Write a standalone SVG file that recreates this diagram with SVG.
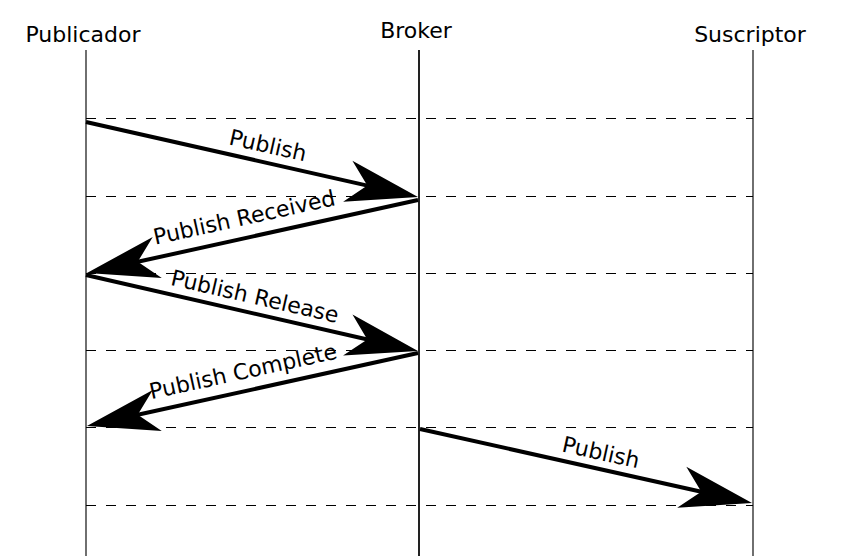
<svg xmlns="http://www.w3.org/2000/svg" width="842" height="556" viewBox="0 0 842 556">
<style>
.hdr{font-family:"DejaVu Sans",sans-serif;font-size:22px;fill:#000;text-anchor:middle}
.lbl{font-family:"DejaVu Sans",sans-serif;font-size:22px;fill:#000;text-anchor:middle}
.life{stroke:#222;stroke-width:1.3;fill:none}
.dash{stroke:#000;stroke-width:1;stroke-dasharray:10,10;fill:none}
.msg{stroke:#000;stroke-width:4;fill:none;marker-end:url(#head)}
</style>
<defs>
<marker id="head" markerUnits="userSpaceOnUse" viewBox="-74 -24 76 48" refX="-45" refY="0" markerWidth="76" markerHeight="48" orient="auto" overflow="visible">
<path d="M0,0 L-72,-21 L-52,0 L-72,21 Z" fill="#000"/>
</marker>
</defs>
<g id="publicador">
<text class="hdr" x="83" y="42">Publicador</text>
<line class="life" x1="86" y1="50" x2="86" y2="556"/>
</g>
<g id="broker">
<text class="hdr" x="416" y="38">Broker</text>
<line class="life" x1="419" y1="50" x2="419" y2="556" style="stroke-width:2"/>
</g>
<g id="suscriptor">
<text class="hdr" x="750" y="42">Suscriptor</text>
<line class="life" x1="753" y1="50" x2="753" y2="556"/>
</g>
<g id="grid">
<line class="dash" x1="86" y1="118.5" x2="753" y2="118.5"/>
<line class="dash" x1="86" y1="196.5" x2="753" y2="196.5"/>
<line class="dash" x1="86" y1="273.5" x2="753" y2="273.5"/>
<line class="dash" x1="86" y1="350.5" x2="753" y2="350.5"/>
<line class="dash" x1="86" y1="427.5" x2="753" y2="427.5"/>
<line class="dash" x1="86" y1="505.5" x2="753" y2="505.5"/>
</g>
<g id="connectors">
<line class="msg" x1="86" y1="122" x2="374.1" y2="187.1"/>
<line class="msg" x1="418" y1="200" x2="130.9" y2="263.3"/>
<line class="msg" x1="86" y1="275" x2="374.1" y2="341.0"/>
<line class="msg" x1="418" y1="353" x2="130.9" y2="416.3"/>
<line class="msg" x1="420" y1="429" x2="708.1" y2="493.2"/>
<text class="lbl" transform="translate(268,145) rotate(12.7)" x="0" y="8">Publish</text>
<text class="lbl" transform="translate(244,217) rotate(-12.4)" x="0" y="8">Publish Received</text>
<text class="lbl" transform="translate(255,296) rotate(12.9)" x="0" y="8">Publish Release</text>
<text class="lbl" transform="translate(243,371) rotate(-12.4)" x="0" y="8">Publish Complete</text>
<text class="lbl" transform="translate(601,452) rotate(12.5)" x="0" y="8">Publish</text>
</g>
</svg>
